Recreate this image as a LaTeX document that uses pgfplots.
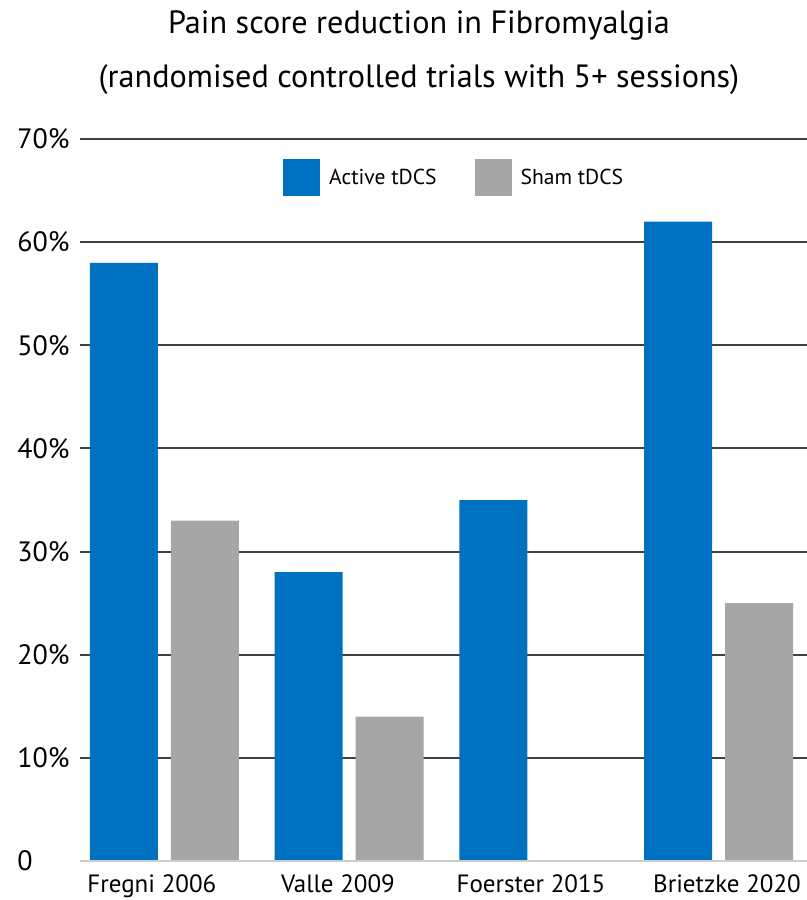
\documentclass[border=0pt]{standalone}
\usepackage{pgfplots}
\pgfplotsset{compat=1.18}
\usepackage{fontspec}
\setmainfont{PT Sans}
\definecolor{actblue}{HTML}{0070C0}
\definecolor{shamgray}{HTML}{A6A6A6}
\definecolor{gridc}{HTML}{404040}
\begin{document}
\begin{tikzpicture}
\path[use as bounding box] (-40pt,-19.5pt) rectangle (363.5pt,430.5pt);
\begin{axis}[
  at={(0,0)}, anchor=south west,
  scale only axis,
  width=363.5pt, height=361pt,
  xmin=-0.457, xmax=3.478,
  ymin=0, ymax=70,
  axis line style={draw=none},
  ytick={0,10,20,30,40,50,60,70},
  yticklabels={0,10\%,20\%,30\%,40\%,50\%,60\%,70\%},
  xtick={-0.068,0.939,1.984,3.045},
  xticklabels={Fregni 2006,Valle 2009,Foerster 2015,Brietzke 2020},
  major tick length=0pt,
  ymajorgrids,
  grid style={draw=gridc, line width=1pt},
  yticklabel style={anchor=west, inner sep=0pt, xshift=-31.5pt, font=\fontsize{14}{16}\selectfont},
  xticklabel style={anchor=base, inner sep=0pt, yshift=-16pt, font=\fontsize{12.5}{14}\selectfont},
  ybar, bar width=0.368,
  legend columns=2,
  legend image code/.code={\fill[#1] (0pt,-9.25pt) rectangle (18.5pt,9.25pt);},
  legend style={at={(0.279,0.946)}, anchor=west, draw=none, fill=none, inner sep=0pt,
    font=\fontsize{10.8}{12}\selectfont,
    nodes={inner sep=0pt},
    /tikz/every odd column/.append style={column sep=4.5pt},
    /tikz/every even column/.append style={column sep=19pt}},
  legend cell align=left,
  clip=false,
]
\addplot[fill=actblue, draw=none, bar shift=-0.219] coordinates {(0,58) (1,28) (2,35) (3,62)};
\addplot[fill=shamgray, draw=none, bar shift=0.219] coordinates {(0,33) (1,14) (3,25)};
\legend{Active tDCS, Sham tDCS}
\draw[color=black!20, line width=0.8pt] (axis cs:-0.457,0) -- (axis cs:3.478,0);
\end{axis}
\node[anchor=base, font=\fontsize{16.1}{18}\selectfont] at (169.5pt,413.5pt) {Pain score reduction in Fibromyalgia};
\node[anchor=base, font=\fontsize{16.1}{18}\selectfont] at (169.5pt,386.5pt) {(randomised controlled trials with 5+ sessions)};
\end{tikzpicture}
\end{document}
